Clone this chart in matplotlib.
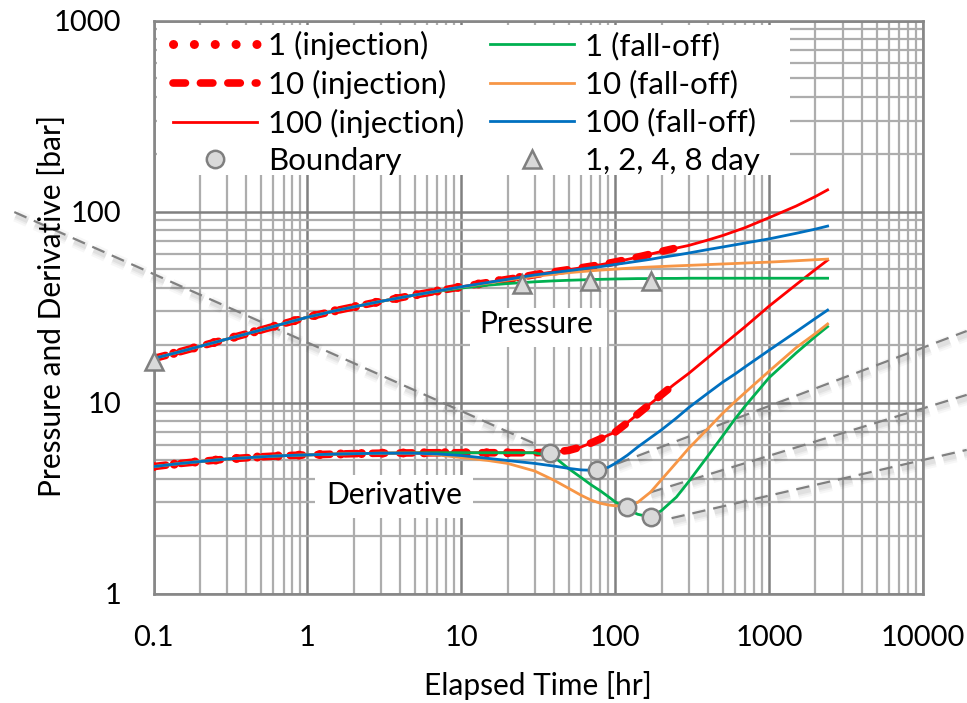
import numpy as np
import matplotlib
matplotlib.use("Agg")
import matplotlib.pyplot as plt
from matplotlib.patches import Rectangle
import matplotlib.patheffects as pe
from matplotlib.ticker import FixedLocator, NullFormatter

plt.rcParams['font.family'] = ['Lato', 'DejaVu Sans']

# ---------------- data ----------------
# injection: one response curve, plotted up to the end of each injection period [hr]
inj_labels = ["1 (injection)", "10 (injection)", "100 (injection)"]
inj_end_hr = [24, 240, 2400]

t_inj = [0.1, 0.15, 0.2, 0.3, 0.5, 0.7, 1, 1.5, 2, 3, 5, 7, 10, 15, 20, 24, 30,
         40, 50, 60, 70, 80, 90, 100, 120, 150, 200, 240, 300, 400, 500, 700,
         1000, 1500, 2000, 2400]
p_inj = [17.0, 18.5, 19.7, 21.5, 24.0, 25.9, 28.0, 30.2, 31.7, 33.9, 36.6, 38.4,
         40.4, 42.6, 44.2, 45.2, 46.8, 48.4, 49.7, 50.8, 51.8, 52.7, 53.6, 54.5,
         56.2, 58.5, 61.9, 64.0, 66.5, 71.0, 75.0, 82.5, 93.0, 107.0, 120.0, 130.0]
dp_inj = [4.62, 4.80, 4.91, 5.06, 5.20, 5.27, 5.32, 5.37, 5.40, 5.43, 5.45, 5.46,
          5.46, 5.46, 5.46, 5.46, 5.46, 5.50, 5.62, 5.85, 6.15, 6.45, 6.75, 7.0,
          7.85, 9.1, 11.0, 12.4, 14.2, 17.2, 20.0, 25.0, 32.0, 41.5, 49.8, 55.7]

# fall-off responses
t_fo = [0.1, 0.15, 0.2, 0.3, 0.5, 0.7, 1, 1.5, 2, 3, 5, 7, 10, 15, 20, 30, 40,
        50, 60, 70, 80, 90, 100, 120, 140, 170, 200, 250, 300, 400, 500, 600,
        700, 1000, 1500, 2000, 2400]

p_fo1 = [17.0, 18.5, 19.7, 21.5, 24.0, 25.9, 28.0, 30.2, 31.7, 33.9, 36.6, 38.2,
         39.8, 41.2, 42.0, 42.9, 43.4, 43.7, 43.9, 44.1, 44.2, 44.3, 44.4, 44.5,
         44.6, 44.6, 44.7, 44.7, 44.8, 44.8, 44.8, 44.8, 44.8, 44.8, 44.8, 44.8,
         44.8]
dp_fo1 = [4.62, 4.80, 4.91, 5.06, 5.20, 5.27, 5.32, 5.37, 5.40, 5.43, 5.45, 5.46,
          5.46, 5.46, 5.46, 5.46, 5.20, 4.50, 4.05, 3.70, 3.45, 3.22, 3.02, 2.76,
          2.60, 2.51, 2.72, 3.20, 3.85, 5.25, 6.70, 8.20, 9.60, 13.5, 18.2, 22.2,
          25.0]

p_fo10 = [17.0, 18.5, 19.7, 21.5, 24.0, 25.9, 28.0, 30.2, 31.7, 33.9, 36.6, 38.4,
          40.3, 42.3, 43.8, 45.8, 47.0, 47.9, 48.5, 49.0, 49.4, 49.7, 50.0, 50.5,
          50.9, 51.3, 51.6, 52.0, 52.3, 52.8, 53.2, 53.5, 53.8, 54.4, 55.3, 56.0,
          56.4]
dp_fo10 = [4.62, 4.80, 4.91, 5.06, 5.20, 5.27, 5.32, 5.37, 5.40, 5.43, 5.43, 5.32,
           5.15, 4.97, 4.80, 4.38, 3.92, 3.55, 3.27, 3.08, 2.97, 2.91, 2.88, 2.86,
           3.00, 3.40, 3.95, 4.85, 5.75, 7.30, 8.80, 10.1, 11.3, 14.6, 19.4, 23.0,
           25.8]

p_fo100 = [17.0, 18.5, 19.7, 21.5, 24.0, 25.9, 28.0, 30.2, 31.7, 33.9, 36.6, 38.4,
           40.4, 42.6, 44.2, 46.6, 48.0, 49.1, 50.0, 50.8, 51.5, 52.2, 52.9, 54.0,
           55.0, 56.3, 57.6, 59.2, 60.7, 63.3, 65.3, 67.0, 68.5, 72.0, 77.0, 81.0,
           84.0]
dp_fo100 = [4.62, 4.80, 4.91, 5.06, 5.20, 5.27, 5.32, 5.37, 5.40, 5.43, 5.43, 5.38,
            5.28, 5.10, 4.97, 4.80, 4.65, 4.52, 4.44, 4.42, 4.46, 4.58, 4.80, 5.30,
            5.85, 6.55, 7.20, 8.30, 9.40, 11.2, 12.8, 14.1, 15.4, 18.8, 23.5, 27.6,
            30.5]

fo_labels = ["1 (fall-off)", "10 (fall-off)", "100 (fall-off)"]

# boundary-detection points on the derivative curves
bnd_t = [37.7, 76.4, 118.6, 169.8]
bnd_dp = [5.43, 4.45, 2.85, 2.51]

# 1, 2, 4, 8 day markers on the pressure curves
day_t = [0.1, 24.7, 68.8, 169.8]
day_p = [16.6, 41.7, 43.4, 43.4]

# straight-line guides (start and end points, hr / bar)
guide_t = [(0.01246, 30.1), (102.6, 19230), (168, 19230), (232.4, 19230)]
guide_y = [(99.5, 6.08), (4.78, 23.7), (3.38, 10.97), (2.48, 5.65)]

x_ticks = [0.1, 1, 10, 100, 1000, 10000]
x_tick_labels = ["0.1", "1", "10", "100", "1000", "10000"]
y_ticks = [1, 10, 100, 1000]
y_tick_labels = ["1", "10", "100", "1000"]

# ---------------- styling ----------------
RED = "#FF0000"
GREEN = "#00B050"
ORANGE = "#F79646"
BLUE = "#0070C0"
FS_TICK = 21
FS_LAB = 21.5
FS_LEG = 22.5

W, H = 967, 703
fig = plt.figure(figsize=(W / 100, H / 100), dpi=100)
L, R, T, B = 153.5, 923.0, 20.7, 593.5
ax = fig.add_axes([L / W, 1 - B / H, (R - L) / W, (B - T) / H])
ax.set_xscale("log")
ax.set_yscale("log")
ax.set_xlim(0.1, 10000)
ax.set_ylim(1, 1000)

subs = np.arange(2, 10)
ax.xaxis.set_major_locator(FixedLocator(x_ticks))
ax.yaxis.set_major_locator(FixedLocator(y_ticks))
ax.xaxis.set_minor_locator(FixedLocator([d * s for d in [0.1, 1, 10, 100, 1000] for s in subs]))
ax.yaxis.set_minor_locator(FixedLocator([d * s for d in [1, 10, 100] for s in subs]))
ax.set_xticklabels(x_tick_labels)
ax.set_yticklabels(y_tick_labels)
ax.xaxis.set_minor_formatter(NullFormatter())
ax.yaxis.set_minor_formatter(NullFormatter())
ax.tick_params(which="both", length=0, labelsize=FS_TICK)
ax.tick_params(axis="y", pad=23)
ax.tick_params(axis="x", pad=23)
ax.set_axisbelow(True)
ax.grid(which="minor", color="#ADADAD", lw=1.6)
ax.grid(which="major", color="#808080", lw=1.8)
for s in ax.spines.values():
    s.set_color("#878787")
    s.set_linewidth(1.9)

# guide lines with a soft drop shadow
shadow = [
    pe.SimpleLineShadow(offset=(1, -2.5), shadow_color="k", alpha=0.03, linewidth=9),
    pe.SimpleLineShadow(offset=(1, -2.5), shadow_color="k", alpha=0.04, linewidth=6),
    pe.SimpleLineShadow(offset=(1, -2.5), shadow_color="k", alpha=0.05, linewidth=3.5),
    pe.Normal(),
]
for gt, gy in zip(guide_t, guide_y):
    ax.plot(gt, gy, color="#808080", lw=1.6, ls=(0, (6.0, 3.6)),
            clip_on=False, zorder=2.5, path_effects=shadow)

# injection curves
t_inj_a = np.array(t_inj)
inj_styles = [
    dict(lw=6.5, ls=(0, (0.01, 2.3)), dash_capstyle="round"),
    dict(lw=5.5, ls=(0, (1.63, 1.96)), dash_capstyle="round"),
    dict(lw=2.0, ls="-"),
]
handles_inj = []
for lab, tend, st in zip(inj_labels, inj_end_hr, inj_styles):
    m = t_inj_a <= tend
    ax.plot(t_inj_a[m], np.array(p_inj)[m], color=RED, zorder=3, **st)
    h, = ax.plot(t_inj_a[m], np.array(dp_inj)[m], color=RED, zorder=3, label=lab, **st)
    handles_inj.append(h)

# fall-off curves
handles_fo = []
for lab, col, p, dp in zip(fo_labels, [GREEN, ORANGE, BLUE],
                           [p_fo1, p_fo10, p_fo100], [dp_fo1, dp_fo10, dp_fo100]):
    ax.plot(t_fo, p, color=col, lw=2.0, zorder=4)
    h, = ax.plot(t_fo, dp, color=col, lw=2.0, zorder=4, label=lab)
    handles_fo.append(h)

# markers
h_bnd, = ax.plot(bnd_t, bnd_dp, ls="none", marker="o", ms=12.5, mfc="#D9D9D9",
                 mec="#7F7F7F", mew=1.8, zorder=6, label="Boundary")
h_day, = ax.plot(day_t, day_p, ls="none", marker="^", ms=13, mfc="#D9D9D9",
                 mec="#7F7F7F", mew=1.8, zorder=6, clip_on=False, label="1, 2, 4, 8 day")


def ax_xy(px, py):
    return (px - L) / (R - L), (B - py) / (B - T)


# white boxes behind the curve-group captions
for (x0, y0, x1, y1) in [(470, 308, 607, 347), (315, 475, 473, 518)]:
    ax0, ay1 = ax_xy(x0, y1)
    ax1, ay0 = ax_xy(x1, y0)
    ax.add_patch(Rectangle((ax0, ay1), ax1 - ax0, ay0 - ay1, transform=ax.transAxes,
                           facecolor="white", edgecolor="none", zorder=7))
tx, ty = ax_xy(536, 333)
ax.text(tx, ty, "Pressure", transform=ax.transAxes, ha="center", va="baseline",
        fontsize=FS_LAB, zorder=8)
tx, ty = ax_xy(394, 504)
ax.text(tx, ty, "Derivative", transform=ax.transAxes, ha="center", va="baseline",
        fontsize=FS_LAB, zorder=8)

# legend on a white panel
lx0, ly1 = ax_xy(157, 175)
lx1, ly0 = ax_xy(790, 25)
ax.add_patch(Rectangle((lx0, ly1), lx1 - lx0, ly0 - ly1, transform=ax.transAxes,
                       facecolor="white", edgecolor="none", zorder=7))
leg_handles = handles_inj + [h_bnd] + handles_fo + [h_day]
lax, lay = ax_xy(172.7, 31.0)
leg = ax.legend(handles=leg_handles, ncol=2, loc="upper left",
                bbox_to_anchor=(lax, lay), frameon=False, fontsize=FS_LEG,
                handlelength=2.7, handletextpad=0.36, columnspacing=0.8,
                labelspacing=0.31, borderpad=0, borderaxespad=0, numpoints=1)
leg.set_zorder(9)

fig.text(537.5 / W, 1 - 686 / H, "Elapsed Time [hr]", ha="center", va="center",
         fontsize=FS_LAB)
fig.text(52 / W, 1 - 306 / H, "Pressure and Derivative [bar]", ha="center",
         va="center", rotation=90, fontsize=FS_LAB)

fig.savefig("out.png", dpi=100)
